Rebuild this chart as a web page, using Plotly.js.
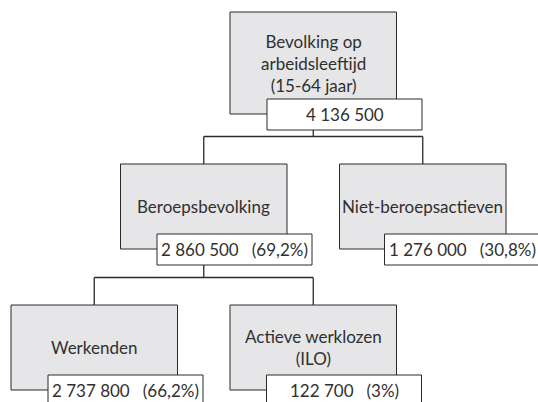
<!DOCTYPE html>
<html>
<head>
<meta charset="utf-8">
<script src="https://cdn.plot.ly/plotly-3.0.1.min.js"></script>
<style>html,body{margin:0;padding:0;background:#fff;}#chart{width:538px;height:402px;}</style>
</head>
<body>
<div id="chart"></div>
<script>
// ---- data ----
const nodeLabels = ['Bevolking op<br>arbeidsleeftijd<br>(15-64 jaar)', 'Beroepsbevolking', 'Niet-beroepsactieven', 'Werkenden', 'Actieve werklozen<br>(ILO)'];
const nodeValues = [4136500, 2860500, 1276000, 2737800, 122700];
const nodeShares = [null, 69.2, 30.8, 66.2, 3];
const nodeParents = [-1, 0, 0, 1, 1];

// ---- layout config (positions / sizes / styles) ----
const levelTop = [12, 164, 305];
const levelHeight = [102, 85, 85];
const boxWidth = 166.5;
const rootLeft = 230;
const childOffset = [-109.5, 109.5];
const valueBoxWidth = 155;
const valueBoxHeight = 31;
const valueBoxOverlap = 15;
const valueBoxShift = [37, 36.5, 45, 37, 36.5];
const connectorGap = 27.5;
const fontFamily = 'Lato, "Open Sans", sans-serif';
const fontSize = 17;
const textColor = '#303030';
const boxFill = '#e6e6e8';
const lineColor = '#2a2a2a';

function fmtNumber(v) {
  return String(v).replace(/\B(?=(\d{3})+(?!\d))/g, '\u00a0');
}
function fmtShare(s) {
  return String(s).replace('.', ',') + '%';
}

// compute geometry from tree
const depth = [], left = [];
const childCount = {};
nodeParents.forEach((p, i) => {
  if (p < 0) { depth[i] = 0; left[i] = rootLeft; return; }
  depth[i] = depth[p] + 1;
  const k = childCount[p] || 0; childCount[p] = k + 1;
  left[i] = left[p] + childOffset[k];
});

const shapes = [], annotations = [];
nodeLabels.forEach((lab, i) => {
  const d = depth[i];
  const x0 = left[i], x1 = x0 + boxWidth;
  const y0 = levelTop[d], y1 = y0 + levelHeight[d];
  const cx = (x0 + x1) / 2;
  shapes.push({type: 'rect', xref: 'x', yref: 'y', x0: x0, x1: x1, y0: y0, y1: y1,
    fillcolor: boxFill, line: {color: lineColor, width: 1}, layer: 'above'});
  annotations.push({xref: 'x', yref: 'y', x: cx, y: (y0 + y1) / 2, text: lab, showarrow: false,
    xanchor: 'center', yanchor: 'middle', align: 'center',
    font: {family: fontFamily, size: fontSize, color: textColor}});
  const vx0 = x0 + valueBoxShift[i], vx1 = vx0 + valueBoxWidth;
  const vy0 = y1 - valueBoxOverlap, vy1 = vy0 + valueBoxHeight;
  shapes.push({type: 'rect', xref: 'x', yref: 'y', x0: vx0, x1: vx1, y0: vy0, y1: vy1,
    fillcolor: '#ffffff', line: {color: lineColor, width: 1}, layer: 'above'});
  let vt = fmtNumber(nodeValues[i]);
  if (nodeShares[i] !== null) vt += '\u00a0\u00a0\u00a0(' + fmtShare(nodeShares[i]) + ')';
  annotations.push({xref: 'x', yref: 'y', x: (vx0 + vx1) / 2, y: (vy0 + vy1) / 2, text: vt, showarrow: false,
    xanchor: 'center', yanchor: 'middle',
    font: {family: fontFamily, size: fontSize, color: textColor}});
});

// connectors
Object.keys(childCount).forEach(pk => {
  const p = +pk;
  const kids = nodeParents.map((q, i) => q === p ? i : -1).filter(i => i >= 0);
  const pcx = left[p] + boxWidth / 2;
  const pBottom = levelTop[depth[p]] + levelHeight[depth[p]] - valueBoxOverlap + valueBoxHeight;
  const barY = levelTop[depth[p] + 1] - connectorGap;
  const kcx = kids.map(k => left[k] + boxWidth / 2);
  shapes.push({type: 'line', xref: 'x', yref: 'y', x0: pcx, x1: pcx, y0: pBottom, y1: barY, line: {color: lineColor, width: 1.3}, layer: 'below'});
  shapes.push({type: 'line', xref: 'x', yref: 'y', x0: Math.min(...kcx), x1: Math.max(...kcx), y0: barY, y1: barY, line: {color: lineColor, width: 1.3}, layer: 'below'});
  kids.forEach((k, j) => {
    shapes.push({type: 'line', xref: 'x', yref: 'y', x0: kcx[j], x1: kcx[j], y0: barY, y1: levelTop[depth[k]], line: {color: lineColor, width: 1.3}, layer: 'below'});
  });
});

const layout = {
  width: 538, height: 402,
  margin: {l: 0, r: 0, t: 0, b: 0},
  paper_bgcolor: '#ffffff', plot_bgcolor: '#ffffff',
  xaxis: {range: [0, 538], visible: false, fixedrange: true},
  yaxis: {range: [402, 0], visible: false, fixedrange: true},
  showlegend: false,
  shapes: shapes,
  annotations: annotations
};
Plotly.newPlot('chart', [{x: [], y: [], type: 'scatter', mode: 'markers', hoverinfo: 'skip'}], layout, {staticPlot: true, displayModeBar: false});
</script>
</body>
</html>
